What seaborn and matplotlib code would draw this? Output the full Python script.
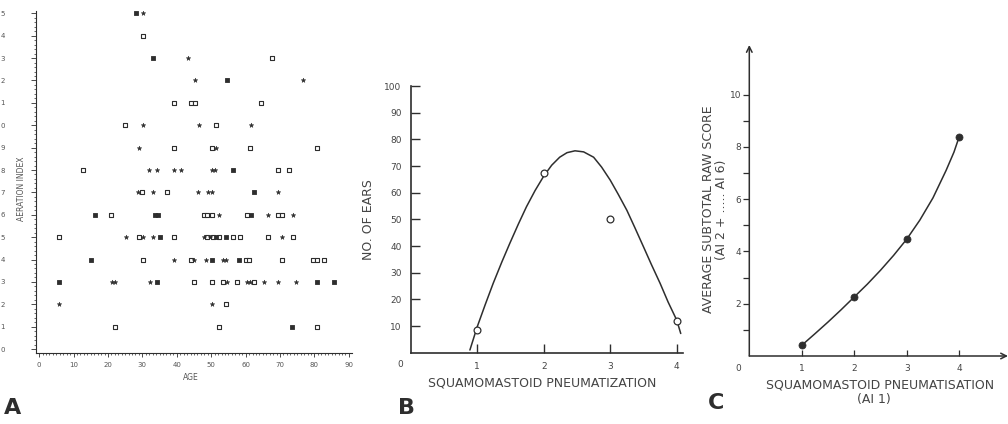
import numpy as np
import matplotlib
matplotlib.use("Agg")
import matplotlib.pyplot as plt
import seaborn as sns

sns.set_style("white")
plt.rcParams["font.family"] = ["DejaVu Sans"]

ink = "#2e2e2e"
grey = "#555555"
W, H = 1008, 424

# ---- panel A: aeration index vs age (three symbol types) ----
open_age = [30.1,                                   # 14
            67.6,                                   # 13
            39.2, 44.2, 45.3, 64.5,                 # 11
            25.1, 51.3,                             # 10
            39.2, 50.1, 61.3, 80.8,                 # 9
            12.7, 69.5, 72.7,                       # 8
            30.0, 37.1,                             # 7
            20.9, 47.9, 48.9, 50.1, 60.5, 69.5, 70.7,   # 6
            5.9, 29.0, 39.2, 48.9, 50.4, 52.2, 56.4, 58.4, 66.4, 73.7,  # 5
            30.1, 44.0, 60.1, 61.1, 70.6, 79.7, 80.6, 82.8,  # 4
            45.1, 50.1, 53.3, 57.4, 62.5,           # 3
            54.3,                                   # 2
            22.1, 52.3, 80.6]                       # 1
open_idx = [14, 13, 11, 11, 11, 11, 10, 10, 9, 9, 9, 9, 8, 8, 8, 7, 7,
            6, 6, 6, 6, 6, 6, 6, 5, 5, 5, 5, 5, 5, 5, 5, 5, 5,
            4, 4, 4, 4, 4, 4, 4, 4, 3, 3, 3, 3, 3, 2, 1, 1, 1]

filled_age = [28.1, 33.2, 54.5, 56.4, 62.4, 16.1, 33.6, 34.6, 61.5,
              35.1, 51.4, 54.3, 15.0, 50.1, 58.2, 5.9, 34.2, 80.6, 85.7, 73.6]
filled_idx = [15, 13, 12, 8, 7, 6, 6, 6, 6, 5, 5, 5, 4, 4, 4, 3, 3, 3, 3, 1]

star_age = [30.3, 43.4, 45.3, 76.7, 30.2, 46.4, 61.5, 29.1, 51.4,
            32.0, 34.2, 39.2, 41.3, 50.1, 51.1,
            28.8, 33.2, 46.3, 49.2, 50.1, 69.5,
            52.4, 66.4, 73.7,
            25.2, 30.3, 33.2, 47.9, 49.7, 70.5,
            39.2, 45.0, 48.4, 53.3, 54.3,
            21.1, 22.1, 32.2, 54.5, 60.3, 61.3, 65.4, 69.5, 74.5,
            5.9, 50.1]
star_idx = [15, 13, 12, 12, 10, 10, 10, 9, 9,
            8, 8, 8, 8, 8, 8,
            7, 7, 7, 7, 7, 7,
            6, 6, 6,
            5, 5, 5, 5, 5, 5,
            4, 4, 4, 4, 4,
            3, 3, 3, 3, 3, 3, 3, 3, 3,
            2, 2]

# ---- panel B: number of ears by pneumatization grade ----
b_grade = [1, 2, 3, 4]
b_ears = [8.5, 67.2, 50.0, 12.0]
b_curve_x = [0.89, 1.0, 1.12, 1.24, 1.37, 1.49, 1.62, 1.74, 1.87, 2.0, 2.12, 2.24,
             2.35, 2.47, 2.6, 2.75, 2.87, 3.0, 3.12, 3.25, 3.37, 3.5, 3.62, 3.75,
             3.87, 4.0, 4.06]
b_curve_y = [1.0, 9.7, 18.0, 26.0, 34.0, 41.0, 48.3, 54.7, 60.8, 66.2, 70.3, 73.3,
             75.0, 75.7, 75.3, 73.3, 69.6, 64.7, 59.4, 53.4, 46.9, 39.7, 33.0, 26.0,
             19.0, 12.2, 7.2]

# ---- panel C: average subtotal raw score ----
c_grade = [1, 2, 3, 4]
c_score = [0.41, 2.26, 4.47, 8.39]
c_curve_x = [1.0, 1.25, 1.5, 1.75, 2.0, 2.25, 2.5, 2.75, 3.0, 3.25, 3.5, 3.75, 3.9, 4.0]
c_curve_y = [0.41, 0.85, 1.3, 1.77, 2.26, 2.75, 3.28, 3.85, 4.47, 5.2, 6.05, 7.1, 7.8, 8.39]

fig = plt.figure(figsize=(W / 100, H / 100), dpi=100)

# ================= A =================
axA = fig.add_axes([36 / W, 1 - 353.3 / H, 316 / W, 342.2 / H])
sns.scatterplot(x=open_age, y=open_idx, marker="s", s=10, color=ink, facecolor="white",
                edgecolor=ink, linewidth=0.8, ax=axA, legend=False, zorder=3)
sns.scatterplot(x=filled_age, y=filled_idx, marker="s", s=10, color=ink,
                edgecolor=ink, linewidth=0.6, ax=axA, legend=False, zorder=3)
sns.scatterplot(x=star_age, y=star_idx, marker="*", s=11, color=ink,
                edgecolor=ink, linewidth=0.4, ax=axA, legend=False, zorder=3)
axA.set_xlim(-0.9, 90.9); axA.set_ylim(-0.19, 15.1)
axA.set_xticks(range(0, 91, 10)); axA.set_xticks(range(0, 91), minor=True)
axA.set_yticks(range(16)); axA.set_yticklabels([str(v % 10) for v in range(16)])
axA.set_yticks(np.arange(0, 15.05, 0.2), minor=True)
axA.tick_params(axis="both", which="both", bottom=True, left=True, direction="out", color=ink)
axA.tick_params(axis="x", which="major", length=3, width=0.6, pad=3, labelsize=5, labelcolor=grey)
axA.tick_params(axis="x", which="minor", length=1.5, width=0.5)
axA.tick_params(axis="y", which="major", length=3.5, width=0.6, pad=19, labelsize=5, labelcolor=grey)
axA.tick_params(axis="y", which="minor", length=1.5, width=0.5)
for s in ["top", "right"]: axA.spines[s].set_visible(False)
for s in ["left", "bottom"]: axA.spines[s].set_color(ink); axA.spines[s].set_linewidth(0.8)
fig.text(191 / W, 1 - 378 / H, "AGE", fontsize=5.5, color=grey, ha="center", va="center")
fig.text(21 / W, 1 - 189 / H, "AERATION INDEX", fontsize=5.5, color=grey, ha="center",
         va="center", rotation=90)
fig.text(13 / W, 1 - 408 / H, "A", fontsize=16, fontweight="bold", color=ink, ha="center", va="center")

# ================= B =================
axB = fig.add_axes([410.7 / W, 1 - 352.7 / H, 272.7 / W, 266.7 / H])
sns.lineplot(x=b_curve_x, y=b_curve_y, color=ink, lw=1.1, ax=axB)
sns.scatterplot(x=b_grade, y=b_ears, marker="o", s=24, color=ink, facecolor="white",
                edgecolor=ink, linewidth=0.9, ax=axB, legend=False, zorder=4, clip_on=False)
axB.set_xlim(0, 4.1); axB.set_ylim(0, 100)
axB.set_xticks(b_grade); axB.set_yticks(range(10, 101, 10))
axB.tick_params(axis="both", bottom=True, left=True, direction="in", length=6.5, width=1.0,
                color=ink, labelcolor="#444444", labelsize=6.5, pad=6.5)
for s in ["top", "right"]: axB.spines[s].set_visible(False)
for s in ["left", "bottom"]: axB.spines[s].set_color(ink); axB.spines[s].set_linewidth(1.2)
axB.text(-0.16, -4.6, "0", fontsize=6.5, color="#444444", ha="center", va="center", clip_on=False)
fig.text(368 / W, 1 - 220 / H, "NO. OF EARS", fontsize=9, color="#444444", ha="center",
         va="center", rotation=90)
fig.text(542 / W, 1 - 383 / H, "SQUAMOMASTOID PNEUMATIZATION", fontsize=9, color="#444444",
         ha="center", va="center")
fig.text(406 / W, 1 - 408 / H, "B", fontsize=16, fontweight="bold", color=ink, ha="center", va="center")

# ================= C =================
axC = fig.add_axes([749.3 / W, 1 - 356 / H, (W - 749.3) / W, 311 / H])
sns.lineplot(x=c_curve_x, y=c_curve_y, color=ink, lw=1.1, ax=axC)
sns.scatterplot(x=c_grade, y=c_score, marker="o", s=26, color=ink, edgecolor=ink,
                linewidth=0.5, ax=axC, legend=False, zorder=4)
axC.set_xlim(0, 4.93); axC.set_ylim(0, 11.9)
for s in axC.spines.values(): s.set_visible(False)
axC.annotate("", xy=(0, 1), xytext=(0, 0), xycoords="axes fraction",
             arrowprops=dict(arrowstyle="->", lw=1.1, color=ink, shrinkA=0, shrinkB=0))
axC.annotate("", xy=(1, 0), xytext=(0, 0), xycoords="axes fraction",
             arrowprops=dict(arrowstyle="->", lw=1.1, color=ink, shrinkA=0, shrinkB=0))
axC.set_xticks(c_grade)
axC.set_yticks(range(1, 11)); axC.set_yticklabels(["" if v % 2 else str(v) for v in range(1, 11)])
axC.tick_params(axis="x", bottom=True, direction="in", length=4.5, width=0.9, color=ink,
                labelcolor="#444444", labelsize=6.5, pad=6)
axC.tick_params(axis="y", left=True, direction="out", length=4.5, width=0.9, color=ink,
                labelcolor="#444444", labelsize=6.5, pad=1.5)
axC.text(-0.21, -0.47, "0", fontsize=6.5, color="#444444", ha="center", va="center", clip_on=False)
fig.text(708 / W, 1 - 209 / H, "AVERAGE SUBTOTAL RAW SCORE", fontsize=9, color="#444444",
         ha="center", va="center", rotation=90)
fig.text(722 / W, 1 - 210 / H, "(AI 2 + ..... AI 6)", fontsize=9, color="#444444",
         ha="center", va="center", rotation=90)
fig.text(880 / W, 1 - 385 / H, "SQUAMOMASTOID PNEUMATISATION", fontsize=9, color="#444444",
         ha="center", va="center")
fig.text(874 / W, 1 - 400 / H, "(AI 1)", fontsize=9, color="#444444", ha="center", va="center")
fig.text(716 / W, 1 - 403 / H, "C", fontsize=16, fontweight="bold", color=ink, ha="center", va="center")

fig.savefig("out.png", dpi=100, facecolor="white")
